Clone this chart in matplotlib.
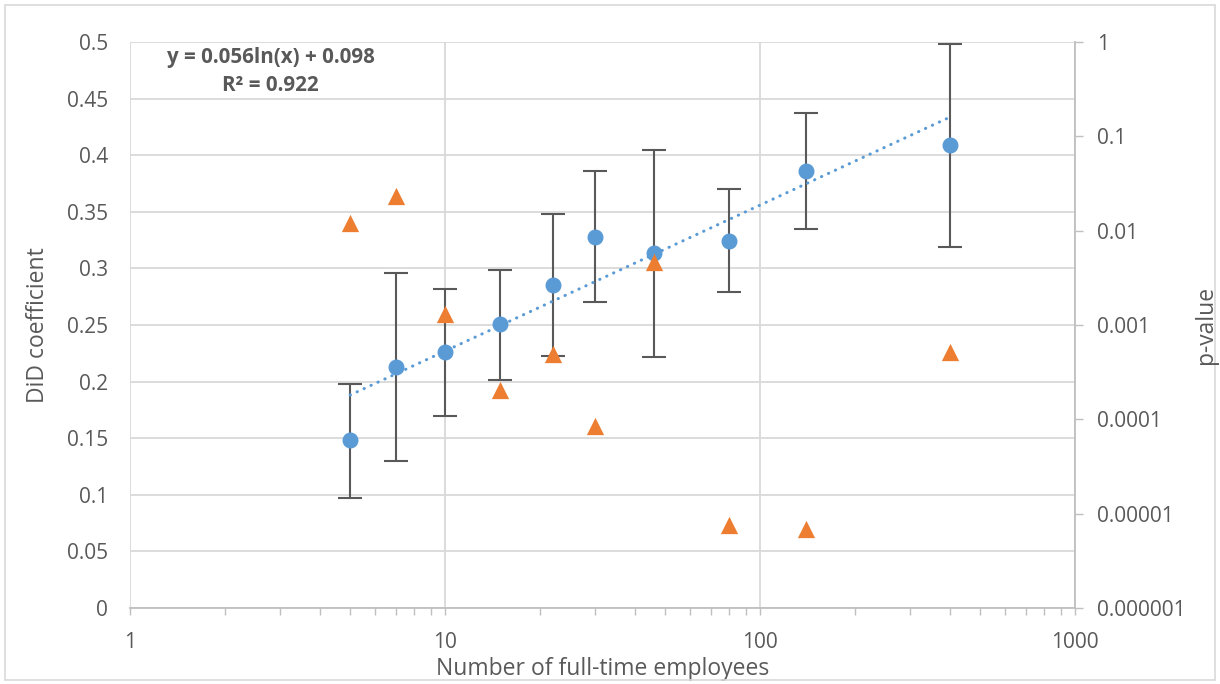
import numpy as np
import matplotlib
matplotlib.use("Agg")
import matplotlib.pyplot as plt
from matplotlib.patches import Rectangle
from matplotlib.ticker import FixedLocator, FixedFormatter, LogLocator, NullFormatter

# employees (x), DiD coefficient with error bars, p-value
EMPLOYEES = [5, 7, 10, 15, 22, 30, 46, 80, 140, 400]
DID_COEF = [0.148, 0.213, 0.226, 0.251, 0.285, 0.328, 0.314, 0.324, 0.386, 0.409]
ERR_HIGH = [0.198, 0.296, 0.282, 0.299, 0.348, 0.386, 0.405, 0.370, 0.437, 0.498]
ERR_LOW = [0.097, 0.130, 0.170, 0.201, 0.223, 0.270, 0.222, 0.279, 0.335, 0.319]
P_VALUES = [0.012, 0.0234, 0.0013, 0.000204, 0.00049, 0.000085, 0.0047, 0.0000076, 0.0000069, 0.00052]

# log trendline shown on the chart
TREND_SLOPE = 0.056
TREND_INTERCEPT = 0.098
TREND_LABEL = "y = 0.056ln(x) + 0.098"
R2_LABEL = "R² = 0.922"

LEFT_TICKS = [0, 0.05, 0.1, 0.15, 0.2, 0.25, 0.3, 0.35, 0.4, 0.45, 0.5]
LEFT_LABELS = ["0", "0.05", "0.1", "0.15", "0.2", "0.25", "0.3", "0.35", "0.4", "0.45", "0.5"]
RIGHT_TICKS = [1e-6, 1e-5, 1e-4, 1e-3, 1e-2, 1e-1, 1]
RIGHT_LABELS = ["0.000001", "0.00001", "0.0001", "0.001", "0.01", "0.1", "1"]
X_TICKS = [1, 10, 100, 1000]
X_LABELS = ["1", "10", "100", "1000"]

BLUE = "#5b9bd5"
ORANGE = "#ed7d31"
TEXT = "#595959"
GRID = "#d9d9d9"
AXIS = "#bfbfbf"

plt.rcParams["font.family"] = ["Open Sans", "DejaVu Sans"]

fig = plt.figure(figsize=(12.2, 6.84), dpi=100)
ax = fig.add_axes([130 / 1220, 1 - 608 / 684, 945 / 1220, 566 / 684])

# outer chart border
fig.add_artist(Rectangle((5 / 1220, 4 / 684), 1210 / 1220, 675 / 684, transform=fig.transFigure,
                         fill=False, edgecolor=GRID, lw=1.2))

x = np.array(EMPLOYEES, dtype=float)
y = np.array(DID_COEF)
yerr = np.vstack([y - np.array(ERR_LOW), np.array(ERR_HIGH) - y])

ax.set_xscale("log")
ax.set_xlim(1, 1000)
ax.set_ylim(0, 0.5)

ax.errorbar(x, y, yerr=yerr, fmt="o", color=BLUE, markersize=10.5, ecolor=TEXT,
            elinewidth=1.5, capsize=8.5, capthick=1.5, zorder=3)

xt = np.linspace(np.log(x.min()), np.log(x.max()), 100)
ax.plot(np.exp(xt), TREND_SLOPE * xt + TREND_INTERCEPT, color=BLUE, lw=2.2,
        linestyle=(0, (0.1, 2.4)), dash_capstyle="round", zorder=4)

ax.yaxis.set_major_locator(FixedLocator(LEFT_TICKS))
ax.yaxis.set_major_formatter(FixedFormatter(LEFT_LABELS))
ax.xaxis.set_major_locator(FixedLocator(X_TICKS))
ax.xaxis.set_major_formatter(FixedFormatter(X_LABELS))
ax.xaxis.set_minor_locator(LogLocator(base=10, subs=np.arange(2, 10)))
ax.xaxis.set_minor_formatter(NullFormatter())

ax.grid(True, which="major", color=GRID, lw=1.3)
ax.set_axisbelow(True)
for s in ["top", "right", "left"]:
    ax.spines[s].set_visible(False)
ax.spines["bottom"].set_color(AXIS)
ax.spines["bottom"].set_linewidth(1.3)
ax.tick_params(axis="y", length=0, pad=16, labelsize=15, labelcolor=TEXT)
ax.tick_params(axis="x", which="major", length=5, width=1, color=AXIS, pad=12,
               labelsize=15, labelcolor=TEXT)
ax.tick_params(axis="x", which="minor", length=5, width=1, color=AXIS)

ax.set_xlabel("Number of full-time employees", fontsize=16.5, color=TEXT, labelpad=3)
ax.set_ylabel("DiD coefficient", fontsize=16.5, color=TEXT, labelpad=12)

ax.text(0.149, 0.972, TREND_LABEL, transform=ax.transAxes, ha="center", va="center",
        fontsize=14.8, fontweight="bold", color=TEXT)
ax.text(0.149, 0.924, R2_LABEL, transform=ax.transAxes, ha="center", va="center",
        fontsize=14.8, fontweight="bold", color=TEXT)

ax2 = ax.twinx()
ax2.set_yscale("log")
ax2.set_ylim(1e-6, 1)
ax2.scatter(x, P_VALUES, marker="^", s=155, color=ORANGE, zorder=5, linewidths=0)
ax2.yaxis.set_major_locator(FixedLocator(RIGHT_TICKS))
ax2.yaxis.set_major_formatter(FixedFormatter(RIGHT_LABELS))
ax2.yaxis.set_minor_locator(FixedLocator([]))
for s in ["top", "left", "bottom"]:
    ax2.spines[s].set_visible(False)
ax2.spines["right"].set_color(AXIS)
ax2.spines["right"].set_linewidth(1.3)
ax2.tick_params(axis="y", length=6, width=1, color=AXIS, pad=10, labelsize=15, labelcolor=TEXT)

# right axis title placed in figure pixels so it stays inside the border
fig.text(1206 / 1220, 1 - 325 / 684, "p-value", rotation=90, ha="center", va="center",
         fontsize=16.5, color=TEXT)

fig.savefig("out.png", dpi=100)
